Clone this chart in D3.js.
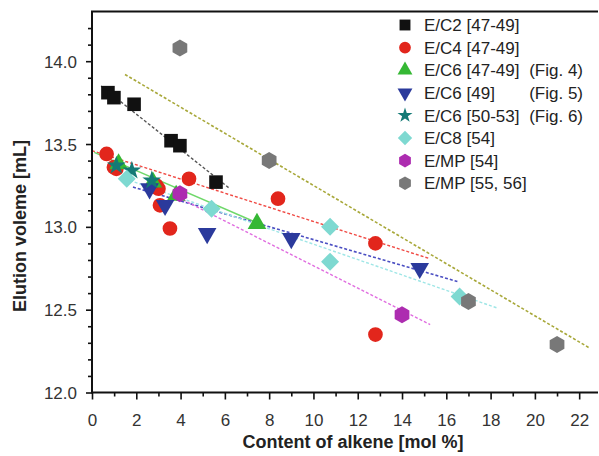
<!DOCTYPE html>
<html>
<head>
<meta charset="utf-8">
<script src="https://cdn.jsdelivr.net/npm/d3@7"></script>
<style>
  body { margin: 0; background: #fff; }
  svg { display: block; font-family: "Liberation Sans", Arial, sans-serif; }
  .tick-label { font-size: 17px; fill: #333; }
  .title { font-size: 18px; font-weight: bold; fill: #222; }
  .legend text { font-size: 17px; fill: #222; }
</style>
</head>
<body>
<div id="chart"></div>
<script>
// series points [mol %, mL]
var ec2 = [[0.72, 13.81], [0.99, 13.78], [1.9, 13.74], [3.57, 13.52], [3.97, 13.49], [5.6, 13.27]];
var ec4 = [[0.66, 13.44], [0.99, 13.36], [1.1, 13.35], [2.9, 13.25], [3.0, 13.23], [3.07, 13.13],
           [3.52, 12.99], [4.38, 13.29], [8.4, 13.17], [12.8, 12.9], [12.8, 12.35]];
var ec6fig4 = [[1.2, 13.38], [2.75, 13.27], [3.8, 13.19], [7.45, 13.02]];
var ec6fig5 = [[2.6, 13.23], [3.3, 13.13], [5.2, 12.96], [9.0, 12.93], [14.8, 12.75]];
var ec6fig6 = [[1.1, 13.37], [1.8, 13.34], [2.7, 13.28]];
var ec8 = [[1.57, 13.29], [5.4, 13.11], [10.75, 13.0], [10.75, 12.79], [16.6, 12.58]];
var emp54 = [[3.97, 13.2], [14.0, 12.47]];
var emp5556 = [[3.97, 14.08], [8.0, 13.4], [17.0, 12.55], [21.0, 12.29]];

// trend lines, [start, end]
var trendC2 = [[0.41, 13.85], [6.23, 13.23]];
var trendC4 = [[0.0, 13.46], [15.2, 12.81]];
var trendC6a = [[0.1, 13.45], [7.7, 13.01]];
var trendC6b = [[1.85, 13.24], [16.5, 12.67]];
var trendC8 = [[1.5, 13.29], [18.3, 12.51]];
var trendMP54 = [[3.7, 13.19], [15.27, 12.41]];
var trendMP = [[1.49, 13.92], [22.45, 12.27]];

var xMajor = [0, 2, 4, 6, 8, 10, 12, 14, 16, 18, 20, 22];
var xMinor = [1, 3, 5, 7, 9, 11, 13, 15, 17, 19, 21];
var yMajor = [12.0, 12.5, 13.0, 13.5, 14.0];
var yMinor = [12.1, 12.2, 12.3, 12.4, 12.6, 12.7, 12.8, 12.9, 13.1, 13.2, 13.3, 13.4,
              13.6, 13.7, 13.8, 13.9, 14.1, 14.2];

var legendNames = ["E/C2 [47-49]", "E/C4 [47-49]", "E/C6 [47-49]", "E/C6 [49]",
                   "E/C6 [50-53]", "E/C8 [54]", "E/MP [54]", "E/MP [55, 56]"];
var legendFigs = ["", "", "(Fig. 4)", "(Fig. 5)", "(Fig. 6)", "", "", ""];

var width = 599, height = 456;

var x = d3.scaleLinear().domain([0, 22.85]).range([92, 598]);
var y = d3.scaleLinear().domain([12, 14.3]).range([392.5, 11.5]);

var svg = d3.select("#chart").append("svg")
  .attr("width", width).attr("height", height);

function hexPath(r) {
  var pts = d3.range(6).map(function (i) {
    var a = Math.PI / 3 * i - Math.PI / 2;
    return [r * Math.cos(a), r * Math.sin(a)];
  });
  return "M" + pts.join("L") + "Z";
}

// square diamond (rotated square)
function diamondPath(r) {
  return "M0," + (-r) + "L" + r + ",0L0," + r + "L" + (-r) + ",0Z";
}

var series = [
  { data: ec2, color: "#111111", shape: d3.symbol().type(d3.symbolSquare).size(185)() },
  { data: ec4, color: "#e2261c", shape: d3.symbol().type(d3.symbolCircle).size(170)() },
  { data: ec6fig4, color: "#35b834", shape: d3.symbol().type(d3.symbolTriangle).size(150)() },
  { data: ec6fig5, color: "#2b3a9c", shape: d3.symbol().type(d3.symbolTriangle).size(150)(), flip: true },
  { data: ec6fig6, color: "#147a76", shape: d3.symbol().type(d3.symbolStar).size(110)() },
  { data: ec8, color: "#7ed9d1", shape: diamondPath(9) },
  { data: emp54, color: "#ad2cb0", shape: hexPath(8.5) },
  { data: emp5556, color: "#787878", shape: hexPath(8.5) }
];

var trends = [
  { data: trendMP, color: "#a8a83a", dash: "3,2", w: 1.6 },
  { data: trendC2, color: "#555555", dash: "3,2", w: 1.4 },
  { data: trendC4, color: "#f04a44", dash: "3,2", w: 1.4 },
  { data: trendC6a, color: "#6fd86a", dash: null, w: 1.4 },
  { data: trendC6b, color: "#4a4ec2", dash: "3,2", w: 1.6 },
  { data: trendC8, color: "#9fe6e6", dash: "3,2", w: 1.4 },
  { data: trendMP54, color: "#e06ee0", dash: "3,2", w: 1.4 }
];

var line = d3.line().x(function (d) { return x(d[0]); }).y(function (d) { return y(d[1]); });

// trend lines
svg.append("g").selectAll("path")
  .data(trends).enter()
  .append("path")
  .attr("d", function (d) { return line(d.data); })
  .attr("fill", "none")
  .attr("stroke", function (d) { return d.color; })
  .attr("stroke-width", function (d) { return d.w; })
  .attr("stroke-dasharray", function (d) { return d.dash; });

// markers
series.forEach(function (s) {
  svg.append("g").selectAll("path")
    .data(s.data).enter()
    .append("path")
    .attr("d", s.shape)
    .attr("transform", function (d) {
      return "translate(" + x(d[0]) + "," + y(d[1]) + ")" + (s.flip ? " rotate(180)" : "");
    })
    .attr("fill", s.color);
});

// axes
var axisColor = "#111";
var x0 = x(0), y0 = y(12);

var xAxisMajor = d3.axisBottom(x).tickValues(xMajor).tickSize(7).tickSizeOuter(0).tickFormat(d3.format("d"));
var gx = svg.append("g").attr("transform", "translate(0," + y0 + ")").call(xAxisMajor);
gx.select(".domain").remove();
gx.selectAll("line").attr("stroke", axisColor).attr("stroke-width", 1.6);
gx.selectAll("text").attr("class", "tick-label").attr("dy", null).attr("y", 33);

var gxm = svg.append("g").attr("transform", "translate(0," + y0 + ")")
  .call(d3.axisBottom(x).tickValues(xMinor).tickSize(4).tickFormat(""));
gxm.select(".domain").remove();
gxm.selectAll("line").attr("stroke", axisColor).attr("stroke-width", 1.6);

var yAxisMajor = d3.axisLeft(y).tickValues(yMajor).tickSize(6).tickFormat(d3.format(".1f"));
var gy = svg.append("g").attr("transform", "translate(" + x0 + ",0)").call(yAxisMajor);
gy.select(".domain").remove();
gy.selectAll("line").attr("stroke", axisColor).attr("stroke-width", 1.6);
gy.selectAll("text").attr("class", "tick-label").attr("x", -15).attr("dy", "0.36em");

var gym = svg.append("g").attr("transform", "translate(" + x0 + ",0)")
  .call(d3.axisLeft(y).tickValues(yMinor).tickSize(4).tickFormat(""));
gym.select(".domain").remove();
gym.selectAll("line").attr("stroke", axisColor).attr("stroke-width", 1.6);

// frame: left, bottom, top
svg.append("path")
  .attr("d", "M" + x(22.85) + "," + y(14.3) + "H" + x0 + "V" + y0 + "H" + x(22.85))
  .attr("fill", "none").attr("stroke", axisColor).attr("stroke-width", 2);

// titles
svg.append("text").attr("class", "title")
  .attr("x", 353).attr("y", 448).attr("text-anchor", "middle")
  .text("Content of alkene [mol %]");
svg.append("text").attr("class", "title")
  .attr("transform", "translate(26,226) rotate(-90)").attr("text-anchor", "middle")
  .text("Elution voleme [mL]");

// legend
var lg = svg.append("g").attr("class", "legend");
series.forEach(function (s, i) {
  var ly = 25 + 22.6 * i;
  var scale = 0.8;
  lg.append("path")
    .attr("d", s.shape)
    .attr("transform", "translate(405," + ly + ") scale(" + scale + ")" + (s.flip ? " rotate(180)" : ""))
    .attr("fill", s.color);
  lg.append("text").attr("x", 424).attr("y", ly).attr("dy", "0.36em").text(legendNames[i]);
  if (legendFigs[i]) {
    lg.append("text").attr("x", 583).attr("y", ly).attr("dy", "0.36em")
      .attr("text-anchor", "end").text(legendFigs[i]);
  }
});
</script>
</body>
</html>
